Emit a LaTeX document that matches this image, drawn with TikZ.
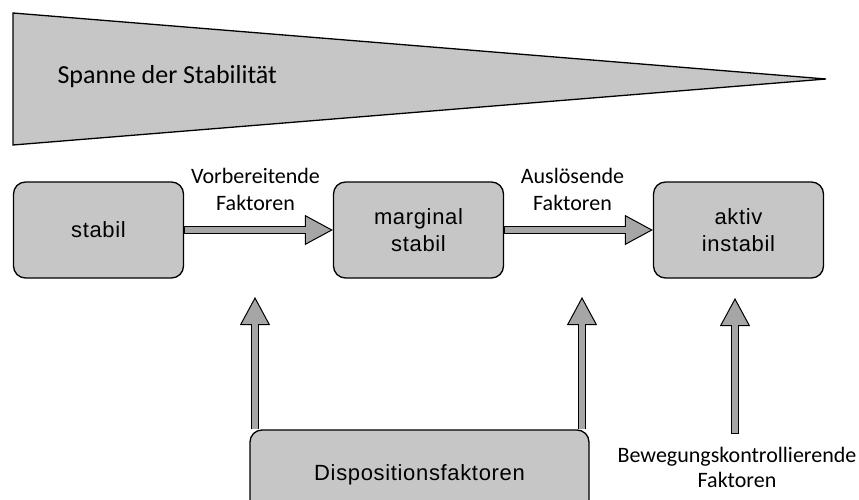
\documentclass[tikz,border=0pt]{standalone}
\usepackage{fontspec}
\setmainfont{Carlito}
\newfontfamily\boxfont{Liberation Sans}[LetterSpace=3]
\usetikzlibrary{arrows.meta,positioning}

\definecolor{boxgray}{HTML}{C6C6C6}
\definecolor{arrowgray}{HTML}{A6A6A6}

\tikzstyle{stage}    = [rectangle, draw, fill=boxgray, line width=1.3pt
                       , rounded corners=12pt, minimum width=170pt
                       , minimum height=96pt, align=center
                       , font=\boxfont\fontsize{22}{27}\selectfont
                       , node distance=320pt]
\tikzstyle{factor}   = [align=center, font=\fontsize{22}{27}\selectfont]
\tikzstyle{fatarrow} = [line width=8pt
                       , -{Triangle[length=28pt, width=30pt, line width=1pt, fill=arrowgray]}
                       , postaction={draw=arrowgray, line width=6pt, -, shorten <=0.7pt, shorten >=27pt}]

\begin{document}
\begin{tikzpicture}[x=1pt, y=-1pt]
\useasboundingbox (0,0) rectangle (859,500);
\clip (0,0) rectangle (859,500);

%% Span Wedge
\draw [fill=boxgray, line width=1.3pt] (13,13) -- (826,79) -- (13,145) -- cycle;
\node [anchor=base west, font=\fontsize{26}{30}\selectfont] (span) at (54,84) {Spanne der Stabilität};

%% Stage Nodes
\node [stage] (stabil) at (98.5,230) {stabil};
\node [stage, right of=stabil] (marginal) {marginal\\stabil};
\node [stage, right of=marginal] (aktiv) {aktiv\\instabil};

%% Factor Nodes
\node [stage, minimum width=339pt, minimum height=90pt] (dispo) at (419.5,475) {Dispositionsfaktoren};
\node [factor, inner ysep=13pt, font=\fontsize{22}{25}\selectfont] (beweg) at (737,467) {Bewegungskontrollierende\\Faktoren};

%% Horizontal arrows
\draw [fatarrow] (stabil) -- node [factor, above=12pt, xshift=-3pt] (vorb) {Vorbereitende\\Faktoren} (marginal);
\draw [fatarrow] (marginal) -- node [factor, above=12pt, xshift=-6pt] (ausl) {Auslösende\\Faktoren} (aktiv);

%% Vertical arrows
\coordinate (vorb-tip) at (255,297);
\coordinate (ausl-tip) at (582,297);
\coordinate (beweg-tip) at (735,298);
\draw [fatarrow] (dispo.north -| vorb-tip) -- (vorb-tip);
\draw [fatarrow] (dispo.north -| ausl-tip) -- (ausl-tip);
\draw [fatarrow] (beweg.north -| beweg-tip) -- (beweg-tip);

\end{tikzpicture}
\end{document}
